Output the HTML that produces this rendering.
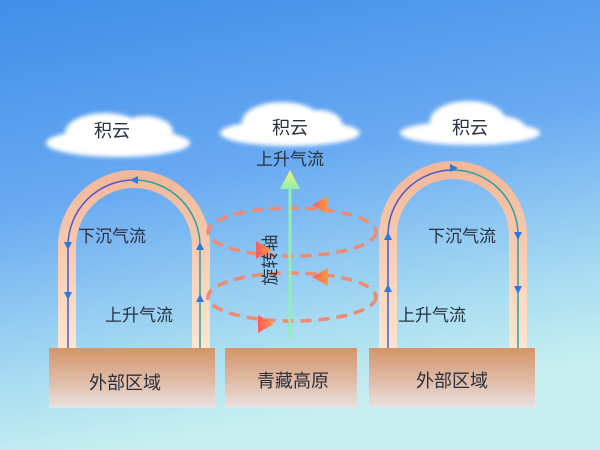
<!DOCTYPE html>
<html><head><meta charset="utf-8"><style>
html,body{margin:0;padding:0;width:600px;height:450px;overflow:hidden}
svg{display:block}
text{font-family:"Liberation Sans","Noto Sans CJK SC",sans-serif;fill:#2a3040}
</style></head><body>
<svg width="600" height="450" viewBox="0 0 600 450" xmlns="http://www.w3.org/2000/svg">
<defs>
<linearGradient id="sky" x1="0" y1="0" x2="0.25" y2="1">
<stop offset="0" stop-color="#3f8ee8"/><stop offset="0.45" stop-color="#6aaaf2"/><stop offset="0.8" stop-color="#a8dcf2"/><stop offset="1" stop-color="#c8f0f0"/></linearGradient>
<linearGradient id="box" x1="0" y1="0" x2="0" y2="1"><stop offset="0" stop-color="#d49468"/><stop offset="0.6" stop-color="#e2c0ad"/><stop offset="1" stop-color="#e8e2e2"/></linearGradient>
<linearGradient id="tube" x1="0" y1="0" x2="0" y2="1"><stop offset="0" stop-color="#f3b89a"/><stop offset="1" stop-color="#fde6d0"/></linearGradient>
<linearGradient id="ax" x1="0" y1="0" x2="0" y2="1"><stop offset="0" stop-color="#f2f070"/><stop offset="1" stop-color="#8ff0b0"/></linearGradient>
<linearGradient id="ah" x1="0" y1="0" x2="1" y2="0"><stop offset="0" stop-color="#ff5a60"/><stop offset="1" stop-color="#ff9a40"/></linearGradient>
<filter id="bl"><feGaussianBlur stdDeviation="2"/></filter>
</defs>
<rect width="600" height="450" fill="url(#sky)"/>
<g fill="#fff" filter="url(#bl)">
<ellipse cx="118" cy="143" rx="72" ry="14"/><ellipse cx="105" cy="133" rx="40" ry="20"/><ellipse cx="145" cy="132" rx="28" ry="16"/>
<ellipse cx="290" cy="133" rx="70" ry="13"/><ellipse cx="282" cy="122" rx="40" ry="20"/><ellipse cx="318" cy="124" rx="24" ry="14"/>
<ellipse cx="470" cy="133" rx="70" ry="12"/><ellipse cx="468" cy="121" rx="38" ry="20"/><ellipse cx="500" cy="128" rx="25" ry="12"/>
</g>
<text x="112" y="137" font-size="18" text-anchor="middle">积云</text>
<text x="290" y="134" font-size="18" text-anchor="middle">积云</text>
<text x="470" y="134" font-size="18" text-anchor="middle">积云</text>
<path d="M67,348 V246 A67,67 0 0 1 201,246 V348" fill="none" stroke="url(#tube)" stroke-width="18"/>
<path d="M388,348 V235 A65,65 0 0 1 518,235 V348" fill="none" stroke="url(#tube)" stroke-width="18"/>
<path d="M68,348 V246 A66,66 0 0 1 134,180" fill="none" stroke="#5058c8" stroke-width="1.5"/>
<path d="M134,180 A66,66 0 0 1 200,246 V348" fill="none" stroke="#2aa0a0" stroke-width="1.5"/>
<path d="M388,348 V235 A65,65 0 0 1 453,170" fill="none" stroke="#5058c8" stroke-width="1.5"/>
<path d="M453,170 A65,65 0 0 1 518,235 V348" fill="none" stroke="#2aa0a0" stroke-width="1.5"/>
<g fill="#2a7ae0">
<path d="M64,242 h8 l-4,8z"/><path d="M64,292 h8 l-4,8z"/>
<path d="M196,250 h8 l-4,-8z"/><path d="M196,302 h8 l-4,-8z"/>
<path d="M130,180 l8,-4 v8z"/>
<path d="M384,240 h8 l-4,-8z"/><path d="M384,292 h8 l-4,-8z"/>
<path d="M514,232 h8 l-4,8z"/><path d="M514,286 h8 l-4,8z"/>
<path d="M458,168 l-8,-4 v8z"/>
</g>
<text x="78" y="242" font-size="17">下沉气流</text>
<text x="105" y="321" font-size="17">上升气流</text>
<text x="428" y="242" font-size="17">下沉气流</text>
<text x="398" y="321" font-size="17">上升气流</text>
<g fill="none" stroke-width="3.5" stroke-dasharray="11,7">
<ellipse cx="292" cy="232" rx="84" ry="24" stroke="#f08a70"/>
<ellipse cx="292" cy="297" rx="84" ry="24" stroke="#f08a70"/>
</g>
<rect x="288.5" y="186" width="3" height="152" fill="#8ff0b0"/>
<path d="M280,189 L290,170 L300,189z" fill="url(#ax)"/>
<text x="290" y="165" font-size="17" text-anchor="middle">上升气流</text>
<text transform="translate(276,260) rotate(-90)" font-size="17" text-anchor="middle">旋转轴</text>
<g fill="url(#ah)">
<path d="M312,205 l16,-9 v18z"/><path d="M312,277 l16,-9 v18z"/>
<path d="M272,250 l-16,-9 v18z"/><path d="M274,324 l-16,-9 v18z"/>
</g>
<rect x="49" y="348" width="166" height="60" fill="url(#box)"/>
<rect x="225" y="348" width="132" height="60" fill="url(#box)"/>
<rect x="369" y="348" width="166" height="60" fill="url(#box)"/>
<text x="125" y="389" font-size="18" text-anchor="middle">外部区域</text>
<text x="293" y="387" font-size="18" text-anchor="middle">青藏高原</text>
<text x="452" y="387" font-size="18" text-anchor="middle">外部区域</text>
</svg>
</body></html>
